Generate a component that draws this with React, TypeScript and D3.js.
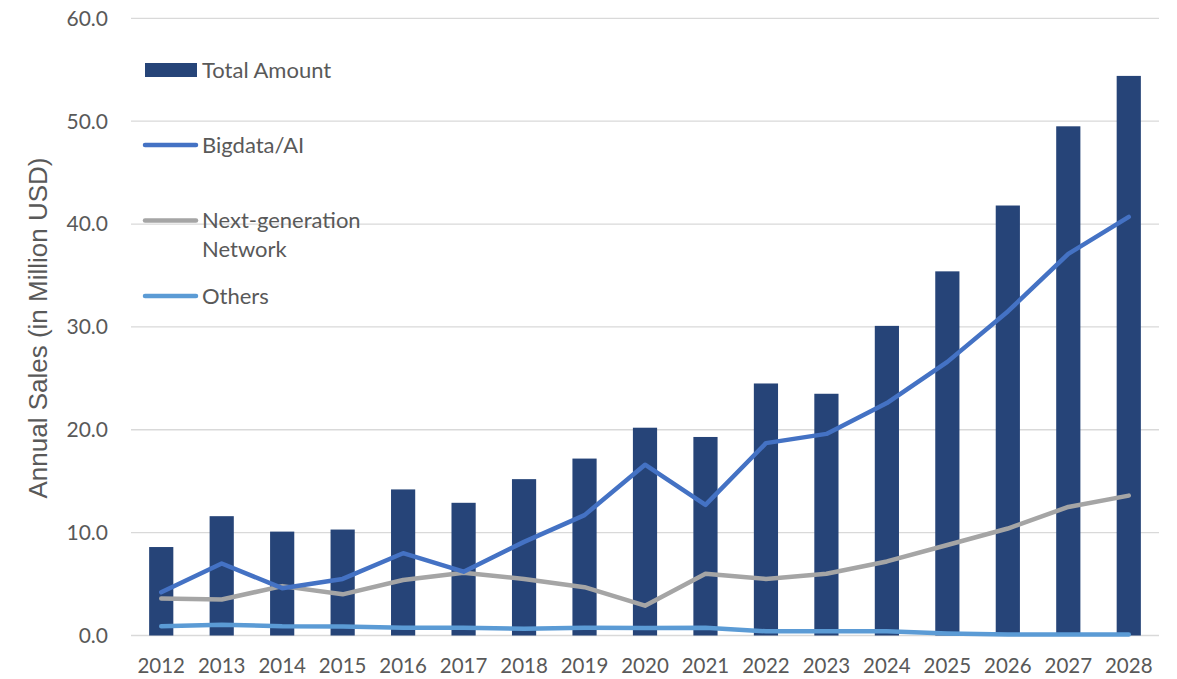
import React from "react";
import * as d3 from "d3";

const years = ["2012","2013","2014","2015","2016","2017","2018","2019","2020","2021","2022","2023","2024","2025","2026","2027","2028"];
const totalAmount = [8.6, 11.6, 10.1, 10.3, 14.2, 12.9, 15.2, 17.2, 20.2, 19.3, 24.5, 23.5, 30.1, 35.4, 41.8, 49.5, 54.4];
const bigdataAI = [4.2, 7.0, 4.6, 5.5, 8.0, 6.2, 9.1, 11.7, 16.6, 12.7, 18.7, 19.6, 22.6, 26.6, 31.5, 37.1, 40.7];
const nextGenNetwork = [3.6, 3.5, 4.8, 4.0, 5.4, 6.1, 5.5, 4.7, 2.9, 6.0, 5.5, 6.0, 7.2, 8.8, 10.4, 12.5, 13.6];
const others = [0.9, 1.05, 0.9, 0.88, 0.76, 0.76, 0.66, 0.76, 0.74, 0.76, 0.41, 0.41, 0.41, 0.2, 0.1, 0.1, 0.1];
const yTicks = [0, 10, 20, 30, 40, 50, 60];

const W = 1177, H = 679;
const left = 131, right = 1159, top = 18.3, bottom = 635.5;

const C_BAR = "#264478";
const C_BIG = "#4472C4";
const C_NEXT = "#A5A5A5";
const C_OTH = "#5B9BD5";
const TXT = "#595959";
const FONT = "Lato, 'Open Sans', sans-serif";

export default function App() {
  const x = d3.scaleBand<string>().domain(years).range([left, right]).paddingInner(0.6).paddingOuter(0.3);
  const xc = (i: number) => (x(years[i]) as number) + x.bandwidth() / 2;
  const y = d3.scaleLinear().domain([0, 60]).range([bottom, top]);
  const line = d3.line<number>().x((_, i) => xc(i)).y((d) => y(d));

  const series = [
    { data: others, color: C_OTH },
    { data: nextGenNetwork, color: C_NEXT },
    { data: bigdataAI, color: C_BIG },
  ];

  return (
    <svg width={W} height={H} style={{ position: "absolute", left: 0, top: 0, background: "#fff" }}>
      {yTicks.map((t) => (
        <g key={t}>
          <line x1={left} x2={right} y1={y(t)} y2={y(t)} stroke="#D9D9D9" strokeWidth={1.3} />
          <text x={108} y={y(t)} dy="0.35em" textAnchor="end" fontFamily={FONT} fontSize={21} fill={TXT}>
            {t.toFixed(1)}
          </text>
        </g>
      ))}
      {totalAmount.map((v, i) => (
        <rect key={i} x={x(years[i])} y={y(v)} width={x.bandwidth()} height={y(0) - y(v)} fill={C_BAR} />
      ))}
      {series.map((s, k) => (
        <path key={k} d={line(s.data) || ""} fill="none" stroke={s.color} strokeWidth={4.5} strokeLinejoin="round" strokeLinecap="round" />
      ))}
      {years.map((yr, i) => (
        <text key={yr} x={xc(i)} y={665.5} dy="0.35em" textAnchor="middle" fontFamily={FONT} fontSize={20.5} fill={TXT}>
          {yr}
        </text>
      ))}
      <text transform="translate(38,328) rotate(-90)" textAnchor="middle" dy="0.35em" fontFamily="'Liberation Sans', Arial, sans-serif" fontSize={26} fill={TXT}>
        Annual Sales (in Million USD)
      </text>
      {/* legend */}
      <g fontFamily={FONT} fontSize={22} fill={TXT}>
        <rect x={145} y={63} width={52} height={14} fill={C_BAR} />
        <text x={202} y={70} dy="0.35em">Total Amount</text>
        <line x1={145} x2={196} y1={145} y2={145} stroke={C_BIG} strokeWidth={4.5} strokeLinecap="round" />
        <text x={202} y={145} dy="0.35em">Bigdata/AI</text>
        <line x1={145} x2={196} y1={220.5} y2={220.5} stroke={C_NEXT} strokeWidth={4.5} strokeLinecap="round" />
        <text x={202} y={220.5} dy="0.35em">Next-generation</text>
        <text x={202} y={249} dy="0.35em">Network</text>
        <line x1={145} x2={196} y1={296} y2={296} stroke={C_OTH} strokeWidth={4.5} strokeLinecap="round" />
        <text x={202} y={296} dy="0.35em">Others</text>
      </g>
    </svg>
  );
}
